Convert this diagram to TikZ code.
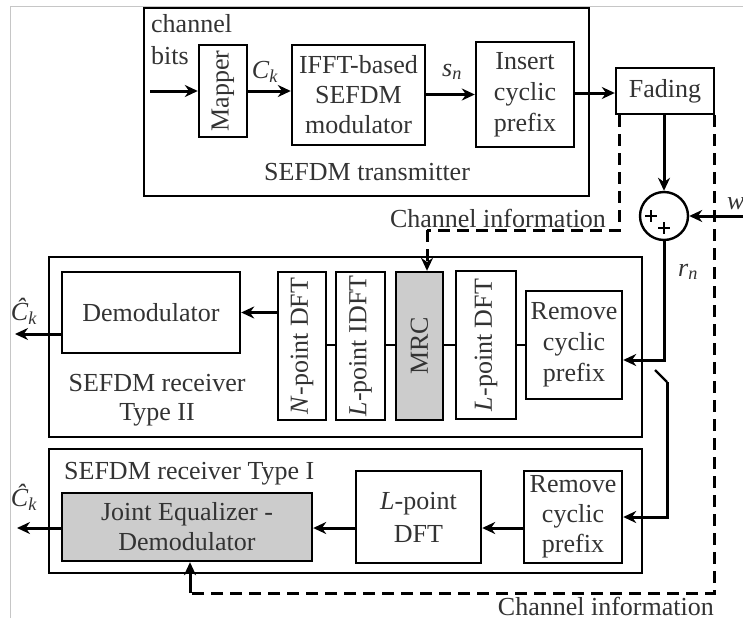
\documentclass[tikz,border=0pt]{standalone}
\usepackage{fontspec}
\usepackage{graphicx}
\setmainfont{Liberation Serif}
\usetikzlibrary{arrows.meta}
\newcommand{\sym}[2]{\textit{#1}\textsubscript{\textit{#2}}}
\begin{document}
\begin{tikzpicture}[x=1pt,y=-1pt,
  font=\fontsize{26}{31}\selectfont, text=black!80,
  box/.style={draw=black, line width=2.4pt, inner sep=0pt, align=center},
  frame/.style={draw=black, line width=2.4pt, inner sep=0pt},
  arr/.style={line width=3pt, -{Stealth[length=13pt,width=12pt]}},
  link/.style={line width=2.4pt},
  dsh/.style={line width=3pt, dash pattern=on 12pt off 7pt},
  lbl/.style={inner sep=0pt}]
\useasboundingbox (0,0) rectangle (743,618);
\fill[white] (0,0) rectangle (743,618);
% thin outer rule
\draw[gray!45, line width=1pt] (10,618) -- (10,7) -- (743,7);

% ---------------- transmitter ----------------
\node[frame, minimum width=445pt, minimum height=188pt] (tx) at (366.5,102) {};
\node[lbl, anchor=north west, align=left, font=\fontsize{26}{32}\selectfont] (cb) at (151,14) {channel\\bits};
\node[lbl] (txl) at (367,172) {SEFDM transmitter};
\node[box, minimum width=48pt, minimum height=92pt] (mapper) at (223,91) {\rotatebox{90}{Mapper}};
\node[box, minimum width=133pt, minimum height=100pt, font=\fontsize{26}{30}\selectfont] (ifft) at (358.5,95) {IFFT-based\\SEFDM\\modulator};
\node[box, minimum width=98pt, minimum height=105pt] (ins) at (525,94.5) {Insert\\cyclic\\prefix};
\node[box, minimum width=98pt, minimum height=46pt] (fad) at (665,91) {Fading};
\coordinate (bin) at (150,91);
\draw[arr] (bin) -- (mapper.west);
\draw[arr] (mapper.east) -- (mapper.east -| ifft.west);
\node[lbl] (ck) at (265,72) {\sym{C}{k}};
\draw[arr] (ifft.east |- ins.west) -- (ins.west);
\node[lbl] (sn) at (452,72) {\sym{s}{n}};
\draw[arr] (ins.east |- 0,93) -- (fad.west |- 0,93);

% ---------------- channel ----------------
\node[circle, draw=black, line width=2.4pt, minimum size=48pt, inner sep=0pt] (sum) at (664,216) {};
\draw[line width=2.6pt] (645,216) -- (657,216) (651,210) -- (651,222)
                        (658,228) -- (670,228) (664,222) -- (664,234);
\draw[arr] (fad.south -| sum.north) -- (sum.north);
\coordinate (win) at (750,216);
\draw[arr] (win) -- (sum.east);
\node[lbl, anchor=west] (wn) at (727,205) {\sym{w}{n}};
\node[lbl] (rn) at (688,272) {\sym{r}{n}};

% ---------------- receiver type II ----------------
\node[frame, minimum width=593pt, minimum height=180pt] (rx2) at (345.5,347) {};
\node[lbl, align=center, font=\fontsize{26}{29}\selectfont] (rx2l) at (157,400) {SEFDM receiver\\Type II};
\node[box, minimum width=178pt, minimum height=81pt] (demod) at (151,312.5) {Demodulator};
\node[box, minimum width=48pt, minimum height=148pt] (ndft) at (302,346) {\rotatebox{90}{\textit{N}-point DFT}};
\node[box, minimum width=49pt, minimum height=148pt] (lidft) at (360.5,346) {\rotatebox{90}{\textit{L}-point IDFT}};
\node[box, fill=gray!40, minimum width=47pt, minimum height=148pt] (mrc) at (419.5,346) {\rotatebox{90}{MRC}};
\node[box, minimum width=60pt, minimum height=148pt] (ldft2) at (486,345) {\rotatebox{90}{\textit{L}-point DFT}};
\node[box, minimum width=96pt, minimum height=108pt] (rem2) at (574,345) {Remove\\cyclic\\prefix};
\draw[link] (ndft.east |- 0,345) -- (lidft.west |- 0,345);
\draw[link] (lidft.east |- 0,345) -- (mrc.west |- 0,345);
\draw[link] (mrc.east |- 0,345) -- (ldft2.west |- 0,345);
\draw[link] (ldft2.east |- 0,345) -- (rem2.west |- 0,345);
\draw[arr] (ndft.west |- demod.east) -- (demod.east);
\coordinate (out2) at (15,334);
\draw[arr] (demod.west |- out2) -- (out2);
\node[lbl] (c2) at (24,311) {\textit{Ĉ}\textsubscript{\textit{k}}};
\coordinate (rturn) at (664,360);
\draw[arr] (sum.south) -- (rturn) -- (rturn -| rem2.east);

% ---------------- receiver type I ----------------
\node[frame, minimum width=593pt, minimum height=124pt] (rx1) at (345.5,511) {};
\node[lbl, anchor=west] (rx1l) at (64,474) {SEFDM receiver Type I};
\node[box, fill=gray!40, minimum width=250pt, minimum height=68pt, font=\fontsize{26}{30}\selectfont] (joint) at (187,527) {Joint Equalizer -\\Demodulator};
\node[box, minimum width=125pt, minimum height=92pt, font=\fontsize{26}{33}\selectfont] (ldft1) at (418.5,517) {\textit{L}-point\\DFT};
\node[box, minimum width=98pt, minimum height=92pt, font=\fontsize{26}{30}\selectfont] (rem1) at (573,517) {Remove\\cyclic\\prefix};
\draw[arr] (rem1.west |- 0,528) -- (ldft1.east |- 0,528);
\draw[arr] (ldft1.west |- 0,528) -- (joint.east |- 0,528);
\coordinate (out1) at (17,528);
\draw[arr] (joint.west |- out1) -- (out1);
\node[lbl] (c1) at (24,497) {\textit{Ĉ}\textsubscript{\textit{k}}};
\coordinate (sw1) at (655,370);
\coordinate (sw2) at (667,382);
\draw[link] (sw1) -- (sw2);
\draw[arr] (sw2) |- (rem1.east);

% ---------------- channel information ----------------
\coordinate (ciA) at ([xshift=5pt]fad.south west);
\coordinate (ciB) at (427,230);
\draw[dsh] (ciA) |- (ciB);
\draw[dsh, -{Stealth[length=13pt,width=12pt]}] (ciB) -- (ciB |- mrc.north);
\node[lbl] (ci1) at (498,218) {Channel information};
\coordinate (ciC) at ([xshift=-1pt]fad.south east);
\coordinate (ciD) at (190,593);
\draw[dsh] (ciC) |- (ciD);
\draw[arr] (ciD) -- (ciD |- joint.south);
\node[lbl, anchor=east] (ci2) at (714,606) {Channel information};
\end{tikzpicture}
\end{document}
